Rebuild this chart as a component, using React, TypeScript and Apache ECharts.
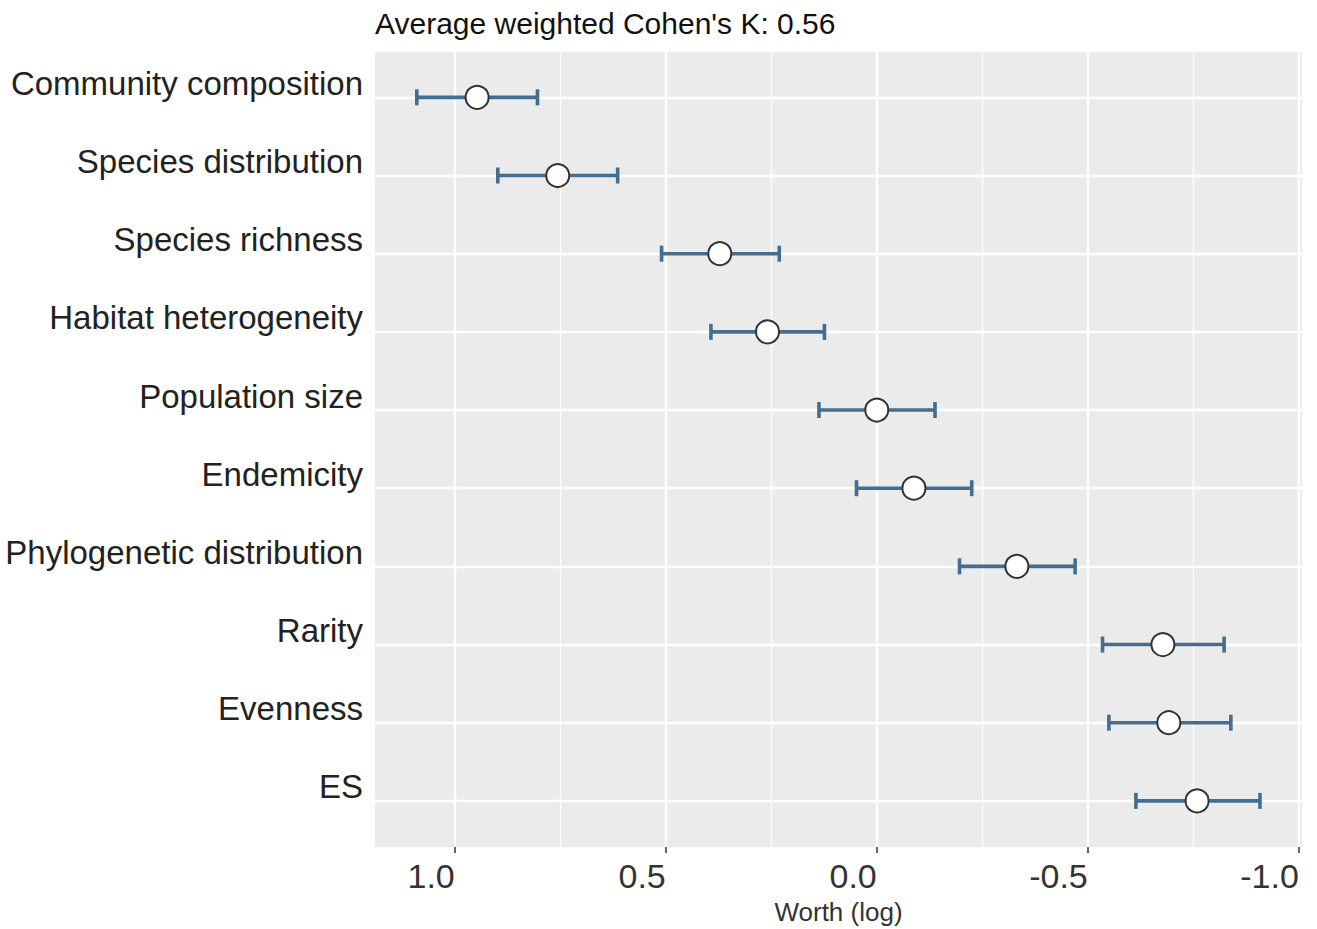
import React, { useEffect, useRef } from "react";
import * as echarts from "echarts";

const categories = [
  "Community composition",
  "Species distribution",
  "Species richness",
  "Habitat heterogeneity",
  "Population size",
  "Endemicity",
  "Phylogenetic distribution",
  "Rarity",
  "Evenness",
  "ES",
];
const worth = [0.947, 0.756, 0.372, 0.259, 0.0, -0.088, -0.332, -0.678, -0.692, -0.759];
const lower = [0.804, 0.614, 0.231, 0.124, -0.138, -0.225, -0.47, -0.823, -0.839, -0.908];
const upper = [1.09, 0.898, 0.51, 0.393, 0.137, 0.048, -0.196, -0.535, -0.55, -0.614];
const majorTicks = [1.0, 0.5, 0.0, -0.5, -1.0];
const minorTicks = [0.75, 0.25, -0.25, -0.75];
const titleText = "Average weighted Cohen's K: 0.56";
const xTitle = "Worth (log)";

const FONT = "'Liberation Sans', Arial, Helvetica, sans-serif";
const BAR_COLOR = "#446d8e";

export default function App() {
  const ref = useRef<HTMLDivElement>(null);
  useEffect(() => {
    if (!ref.current) return;
    const chart = echarts.init(ref.current, null, { renderer: "svg" });
    const rows = categories.map((_, i) => i + 1);
    const gridMarks: any[] = [
      ...majorTicks.map((v) => ({ xAxis: v, lineStyle: { width: 2.4 } })),
      ...minorTicks.map((v) => ({ xAxis: v, lineStyle: { width: 1.3 } })),
      ...rows.map((r) => ({ yAxis: r, lineStyle: { width: 2.4 } })),
    ];
    const option: any = {
      animation: false,
      backgroundColor: "#ffffff",
      textStyle: { fontFamily: FONT },
      title: {
        text: titleText,
        left: 370,
        top: 3,
        textStyle: { fontFamily: FONT, fontSize: 30, fontWeight: "normal", color: "#111" },
      },
      grid: {
        left: 375,
        right: 15,
        top: 52,
        bottom: 82,
        outerBoundsMode: "none",
        containLabel: false,
        show: true,
        backgroundColor: "#ebebeb",
        borderWidth: 0,
      },
      xAxis: {
        type: "value",
        inverse: true,
        min: -1.0076,
        max: 1.189,
        name: xTitle,
        nameLocation: "middle",
        nameGap: 52,
        nameTextStyle: { fontFamily: FONT, fontSize: 26, color: "#333" },
        axisLine: { show: false },
        splitLine: { show: false },
        axisTick: { show: true, customValues: majorTicks, length: 6, lineStyle: { color: "#333", width: 1.5 } },
        axisLabel: {
          customValues: majorTicks,
          formatter: (v: number) => v.toFixed(1),
          fontFamily: FONT,
          fontSize: 34,
          color: "#333",
          align: "right",
          margin: 12,
        },
      },
      yAxis: {
        type: "value",
        inverse: true,
        min: 0.42,
        max: 10.59,
        axisLine: { show: false },
        splitLine: { show: false },
        axisTick: { show: true, customValues: rows, length: 6, lineStyle: { color: "#333", width: 1.5 } },
        axisLabel: {
          customValues: rows,
          formatter: (v: number) => categories[Math.round(v) - 1] ?? "",
          fontFamily: FONT,
          fontSize: 33,
          lineHeight: 28,
          color: "#222",
          verticalAlign: "bottom",
          margin: 12,
        },
      },
      series: [
        {
          type: "scatter",
          data: [],
          silent: true,
          z: 1,
          markLine: {
            silent: true,
            z: 1,
            symbol: ["none", "none"],
            label: { show: false },
            emphasis: { disabled: true },
            lineStyle: { color: "#ffffff", type: "solid", width: 2 },
            data: gridMarks,
          },
        },
        {
          type: "custom",
          z: 6,
          silent: true,
          data: categories.map((_, i) => [lower[i], upper[i], i + 1]),
          encode: { x: [0, 1], y: 2 },
          renderItem: (params: any, api: any) => {
            const lo = api.coord([api.value(0), api.value(2)]);
            const hi = api.coord([api.value(1), api.value(2)]);
            const cap = 8;
            const style = { stroke: BAR_COLOR, lineWidth: 3.6, fill: "none" };
            return {
              type: "group",
              children: [
                { type: "line", shape: { x1: lo[0], y1: lo[1], x2: hi[0], y2: hi[1] }, style },
                { type: "line", shape: { x1: lo[0], y1: lo[1] - cap, x2: lo[0], y2: lo[1] + cap }, style },
                { type: "line", shape: { x1: hi[0], y1: hi[1] - cap, x2: hi[0], y2: hi[1] + cap }, style },
              ],
            };
          },
        },
        {
          type: "scatter",
          z: 7,
          symbol: "circle",
          symbolSize: 23,
          itemStyle: { color: "#ffffff", borderColor: "#333333", borderWidth: 2, opacity: 1 },
          data: categories.map((_, i) => [worth[i], i + 1]),
        },
      ],
    };
    chart.setOption(option);
    return () => chart.dispose();
  }, []);
  return (
    <div
      ref={ref}
      style={{ position: "fixed", left: 0, top: 0, width: 1317, height: 929 }}
    />
  );
}
